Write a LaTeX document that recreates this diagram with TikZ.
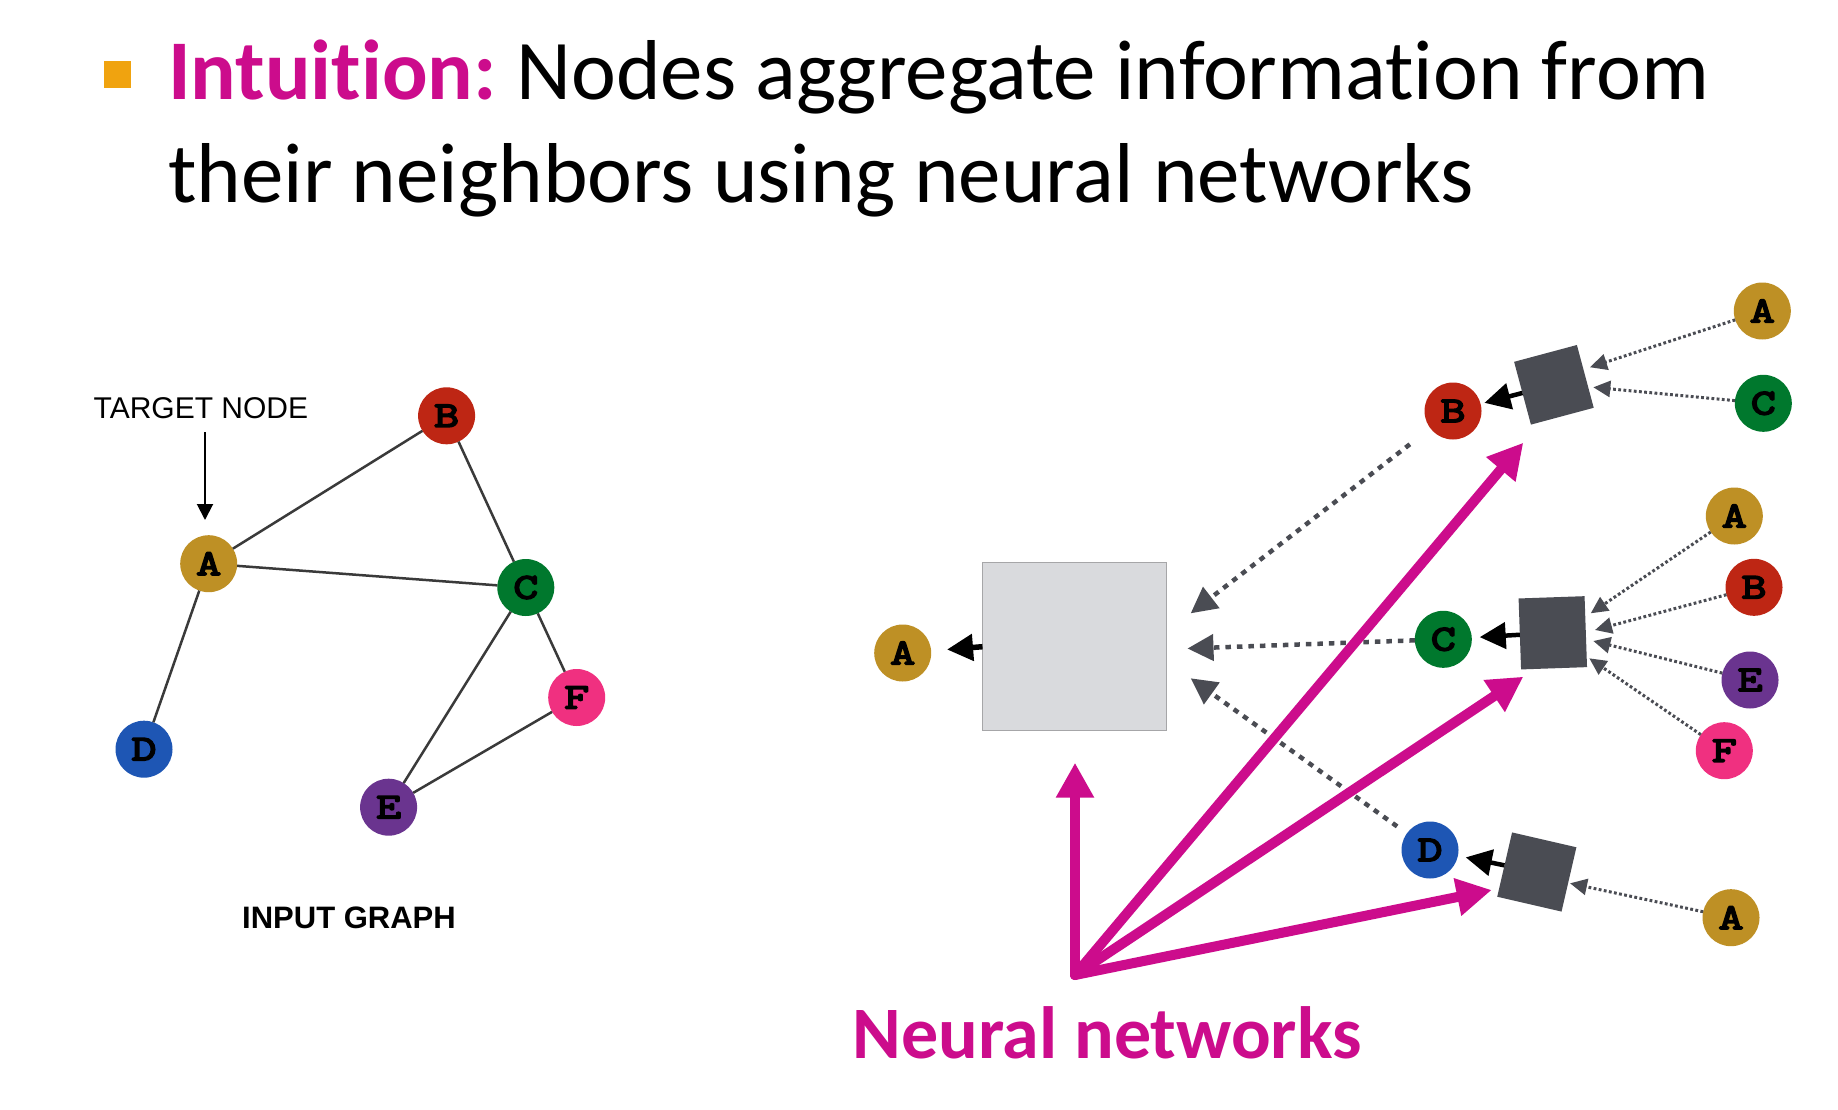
\documentclass[tikz,border=0pt]{standalone}
\usepackage{fontspec}
\setmainfont{Carlito}[Ligatures={NoCommon,NoRequired,NoContextual,NoRare,NoDiscretionary}]
\newfontfamily\helv{Liberation Sans}
\newfontfamily\mono{Latin Modern Mono}[AutoFakeBold=5,FakeStretch=1.35]
\usetikzlibrary{arrows.meta}
\definecolor{mag}{RGB}{204,12,140}
\definecolor{bul}{RGB}{240,163,15}
\definecolor{cA}{RGB}{190,144,37}
\definecolor{cB}{RGB}{190,38,20}
\definecolor{cC}{RGB}{0,120,45}
\definecolor{cD}{RGB}{30,86,180}
\definecolor{cE}{RGB}{106,52,143}
\definecolor{cF}{RGB}{240,48,128}
\definecolor{dgray}{RGB}{74,76,83}
\definecolor{egray}{RGB}{58,58,58}
\definecolor{lbox}{RGB}{217,218,221}
\definecolor{lboxd}{RGB}{166,166,168}
\begin{document}
\begin{tikzpicture}[x=1pt,y=-1pt,
  gnode/.style={circle,minimum size=57pt,inner sep=0pt,outer sep=0pt,font=\mono\bfseries\fontsize{36}{36}\selectfont},
  nA/.style={gnode,fill=cA},
  nB/.style={gnode,fill=cB},
  nC/.style={gnode,fill=cC},
  nD/.style={gnode,fill=cD},
  nE/.style={gnode,fill=cE},
  nF/.style={gnode,fill=cF},
  edge/.style={draw=egray,line width=2.5pt},
  sbox/.style={fill=dgray,inner sep=0pt,outer sep=0pt,minimum width=65pt,minimum height=65pt},
  bigdot/.style={draw=dgray,line width=4.5pt,dash pattern=on 5.5pt off 6pt,-{Triangle[length=26pt,width=26pt]}},
  thindot/.style={draw=dgray,line width=3pt,dash pattern=on 2.8pt off 2.4pt,-{Triangle[length=17pt,width=16pt]}},
  blk/.style={draw=black,line width=4.5pt,-{Triangle[length=26pt,width=26pt]}},
  magarrow/.style={draw=mag,line width=10pt,line cap=round,-{Triangle[length=35pt,width=36pt]}}
]
\useasboundingbox (0,0) rectangle (1838,1110);
\fill[white] (0,0) rectangle (1838,1110);

% title
\fill[bul] (104,61.5) rectangle (131,88.5);
\node[anchor=base west,inner sep=0pt,font=\fontsize{85}{100}\selectfont] (t1) at (168,100)
  {\textcolor{mag}{\bfseries Intuition:}\hspace{-6pt} Nodes aggregate information from};
\node[anchor=base west,inner sep=0pt,font=\fontsize{85}{100}\selectfont] (t2) at (168,202)
  {their neighbors using neural networks};

% left input graph
\node[anchor=base west,inner sep=0pt,font=\helv\fontsize{30}{30}\selectfont] (tn) at (93.5,418.7) {TARGET NODE};
\coordinate (tnS) at (205,432);
\node[nA] (A) at (208.7,563.7) {A};
\node[nB] (B) at (446.6,415.8) {B};
\node[nC] (C) at (525.8,587.5) {C};
\node[nD] (D) at (144,749.2) {D};
\node[nE] (E) at (388.6,807.2) {E};
\node[nF] (F) at (576.7,697.5) {F};
\draw[line width=2pt,-{Triangle[length=16pt,width=16pt]}] (tnS) -- (205,520);
\draw[edge] (A) -- (B);
\draw[edge] (A) -- (C);
\draw[edge] (B) -- (C);
\draw[edge] (A) -- (D);
\draw[edge] (C) -- (E);
\draw[edge] (C) -- (F);
\draw[edge] (E) -- (F);
\node[anchor=base,inner sep=0pt,font=\helv\bfseries\fontsize{31}{31}\selectfont] (ig) at (349,928.8) {INPUT GRAPH};

% right computation graph
\node[nA] (A0) at (902.7,653) {A};
\node[draw=lboxd,fill=lbox,line width=1.5pt,minimum width=184pt,minimum height=168pt,inner sep=0pt,outer sep=0pt] (big) at (1074.5,646.7) {};
\draw[draw=black,line width=5.5pt,-{Triangle[length=26pt,width=26pt]},shorten >=16pt] (big.west) -- (A0);

\node[nB] (B1) at (1453,411) {B};
\node[nC] (C1) at (1443.3,639.3) {C};
\node[nD] (D1) at (1430,850) {D};
\coordinate (tB) at (1190.7,613.3);
\coordinate (tC) at (1187.5,648.5);
\coordinate (tD) at (1190.7,678.3);
\draw[bigdot,shorten <=26pt] (B1) -- (tB);
\draw[bigdot] (C1) -- (tC);
\draw[bigdot,shorten <=12pt] (D1) -- (tD);

\node[sbox,rotate=15] (sB) at (1553.9,384.8) {};
\node[sbox,rotate=2,minimum width=66pt,minimum height=71pt] (sC) at (1552.8,632.8) {};
\node[sbox,rotate=-13,minimum width=66pt,minimum height=66pt] (sD) at (1536.8,872) {};
\draw[blk,shorten >=4pt] (sB) -- (B1);
\draw[blk,shorten >=8pt] (sC) -- (C1);
\draw[blk,shorten >=8pt] (sD) -- (D1);

\node[nA] (A2) at (1762.3,311) {A};
\node[nC] (C2) at (1763.3,403.3) {C};
\node[nA] (A3) at (1734.3,516) {A};
\node[nB] (B3) at (1754,587.3) {B};
\node[nE] (E3) at (1750,680) {E};
\node[nF] (F3) at (1724.3,750.7) {F};
\node[nA] (A4) at (1731,917.7) {A};
\coordinate (pA2) at (1590,367.3);
\coordinate (pC2) at (1593.3,387.3);
\coordinate (pA3) at (1590.7,613.3);
\coordinate (pB3) at (1595,630);
\coordinate (pE3) at (1593.3,641);
\coordinate (pF3) at (1589.3,658.3);
\coordinate (pA4) at (1570,883.3);
\draw[thindot] (A2) -- (pA2);
\draw[thindot] (C2) -- (pC2);
\draw[thindot] (A3) -- (pA3);
\draw[thindot] (B3) -- (pB3);
\draw[thindot] (E3) -- (pE3);
\draw[thindot] (F3) -- (pF3);
\draw[thindot] (A4) -- (pA4);

% neural network arrows
\coordinate (O) at (1075,975);
\coordinate (mUp) at (1075,762.7);
\coordinate (mB) at (1523.3,442.7);
\coordinate (mC) at (1523.3,676.7);
\coordinate (mD) at (1491.7,890);
\draw[magarrow] (O) -- (mUp);
\draw[magarrow] (O) -- (mB);
\draw[magarrow] (O) -- (mC);
\draw[magarrow] (O) -- (mD);
\node[anchor=base,inner sep=0pt,text=mag,font=\bfseries\fontsize{74}{80}\selectfont] (nn) at (1107,1058.3) {Neural networks};
\end{tikzpicture}
\end{document}
